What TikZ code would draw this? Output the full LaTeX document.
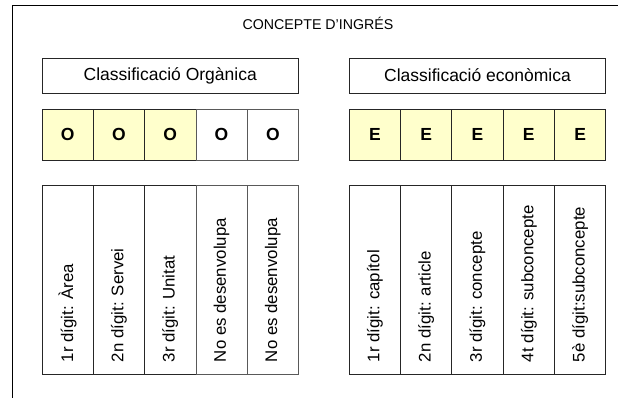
\documentclass[tikz,border=0pt]{standalone}
\usepackage{fontspec}
\setmainfont{Liberation Sans}
\usetikzlibrary{positioning}

\definecolor{cellyellow}{HTML}{FFFFCC}

\begin{document}
\begin{tikzpicture}[x=1pt, y=-1pt,
    every node/.style={inner sep=0pt, outer sep=0pt},
    frame/.style={draw=black, line width=1pt},
    header/.style={draw=black!85, line width=0.8pt, minimum width=256pt, minimum height=35pt, font=\fontsize{17.5}{20}\selectfont},
    digit/.style={draw=black!85, line width=0.8pt, minimum width=51.3pt, minimum height=51pt, font=\fontsize{17.5}{20}\selectfont\bfseries},
    column/.style={draw=black!85, line width=0.8pt, minimum width=51.3pt, minimum height=189pt},
    vlabel/.style={rotate=90, anchor=west, font=\fontsize{16.8}{20}\selectfont}]
  \useasboundingbox (0,0) rectangle (618,398);

  % Frame
  \draw[frame] (12,398) -- (12,6) -- (618,6);

  % Title
  \node[font=\fontsize{14.2}{17}\selectfont] (title) at (318,23) {CONCEPTE D’INGRÉS};

  % Headers
  \node[header] (organica) at (170.25,75.5) {Classificació Orgànica};
  \node[header] (economica) at (477.5,75.5) {Classificació econòmica};

  % Organic digits
  \node[digit, fill=cellyellow] (o1) at (67.65,134.5) {O};
  \node[digit, fill=cellyellow] (o2) at (118.95,134.5) {O};
  \node[digit, fill=cellyellow] (o3) at (170.25,134.5) {O};
  \node[digit, fill=white, draw=black!65] (o4) at (221.55,134.5) {O};
  \node[digit, fill=white, draw=black!65] (o5) at (272.85,134.5) {O};

  % Economic digits
  \node[digit, fill=cellyellow] (e1) at (374.9,134.5) {E};
  \node[digit, fill=cellyellow] (e2) at (426.2,134.5) {E};
  \node[digit, fill=cellyellow] (e3) at (477.5,134.5) {E};
  \node[digit, fill=cellyellow] (e4) at (528.8,134.5) {E};
  \node[digit, fill=cellyellow] (e5) at (580.1,134.5) {E};

  % Organic columns
  \node[column] (oc1) at (67.65,279.5) {};
  \node[column] (oc2) at (118.95,279.5) {};
  \node[column] (oc3) at (170.25,279.5) {};
  \node[column, draw=black!65] (oc4) at (221.55,279.5) {};
  \node[column, draw=black!65] (oc5) at (272.85,279.5) {};
  \node[vlabel] (ol1) at ([yshift=12pt]oc1.south) {1r dígit: Àrea};
  \node[vlabel] (ol2) at ([yshift=12pt]oc2.south) {2n dígit: Servei};
  \node[vlabel] (ol3) at ([yshift=12pt]oc3.south) {3r dígit: Unitat};
  \node[vlabel] (ol4) at ([yshift=12pt]oc4.south) {No es desenvolupa};
  \node[vlabel] (ol5) at ([yshift=12pt]oc5.south) {No es desenvolupa};

  % Economic columns
  \node[column] (ec1) at (374.9,279.5) {};
  \node[column] (ec2) at (426.2,279.5) {};
  \node[column] (ec3) at (477.5,279.5) {};
  \node[column] (ec4) at (528.8,279.5) {};
  \node[column] (ec5) at (580.1,279.5) {};
  \node[vlabel] (el1) at ([yshift=12pt]ec1.south) {1r dígit: capítol};
  \node[vlabel] (el2) at ([yshift=12pt]ec2.south) {2n dígit: article};
  \node[vlabel] (el3) at ([yshift=12pt]ec3.south) {3r dígit: concepte};
  \node[vlabel] (el4) at ([yshift=12pt]ec4.south) {4t dígit: subconcepte};
  \node[vlabel] (el5) at ([yshift=12pt]ec5.south) {5è dígit:subconcepte};
\end{tikzpicture}
\end{document}
